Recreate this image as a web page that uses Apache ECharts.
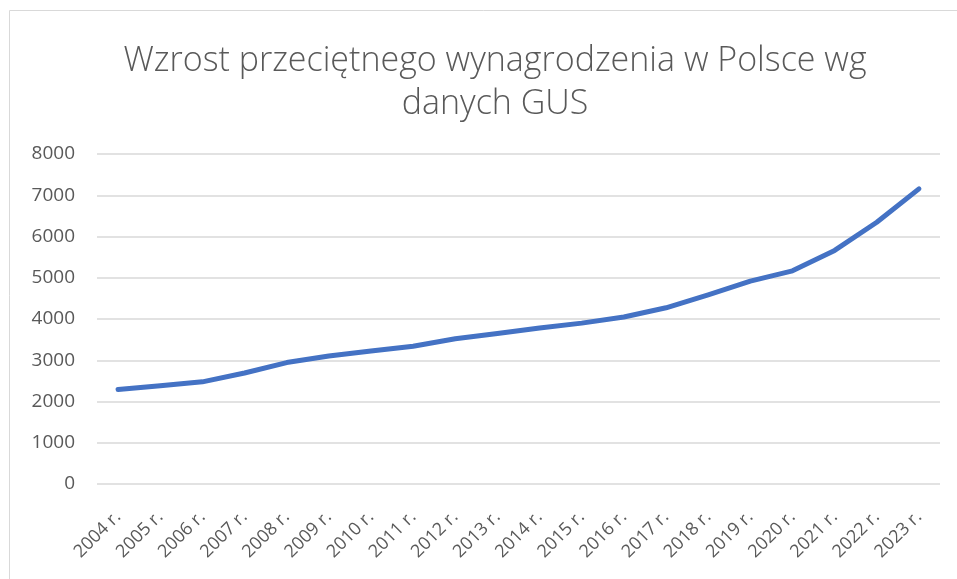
<!DOCTYPE html>
<html>
<head>
<meta charset="utf-8">
<script src="https://cdn.jsdelivr.net/npm/echarts@6/dist/echarts.min.js"></script>
<style>
  html, body { margin: 0; padding: 0; background: #fff; }
  #chart { width: 957px; height: 579px; }
</style>
</head>
<body>
<div id="chart"></div>
<script>
// lata i przeciętne wynagrodzenie (zł)
const years = ['2004 r.', '2005 r.', '2006 r.', '2007 r.', '2008 r.', '2009 r.', '2010 r.',
  '2011 r.', '2012 r.', '2013 r.', '2014 r.', '2015 r.', '2016 r.', '2017 r.', '2018 r.',
  '2019 r.', '2020 r.', '2021 r.', '2022 r.', '2023 r.']
const salary = [2290, 2380, 2477, 2691, 2944, 3103, 3225, 3340, 3522, 3650, 3783, 3900,
  4047, 4272, 4585, 4918, 5167, 5663, 6346, 7155]

const chart = echarts.init(document.getElementById('chart'))
const option = {
  animation: false,
  title: {
    text: 'Wzrost przeciętnego wynagrodzenia w Polsce wg\ndanych GUS',
    left: 490,
    top: 35,
    textAlign: 'center',
    textStyle: {
      fontFamily: 'Open Sans',
      fontWeight: 300,
      fontSize: 34,
      lineHeight: 43,
      color: '#595959',
    },
  },
  graphic: [
    {
      type: 'rect',
      shape: { x: 9.5, y: 10.5, width: 1200, height: 1200 },
      style: { fill: 'none', stroke: '#d9d9d9', lineWidth: 1 },
      silent: true,
    },
  ],
  grid: {
    left: 97,
    right: 17,
    top: 154,
    bottom: 95,
    containLabel: false,
  },
  xAxis: {
    type: 'category',
    data: years,
    boundaryGap: true,
    axisLine: { show: false },
    axisTick: { show: false },
    axisLabel: {
      rotate: 45,
      margin: 30,
      interval: 0,
      fontFamily: 'Open Sans',
      fontSize: 18,
      color: '#595959',
    },
  },
  yAxis: {
    type: 'value',
    min: 0,
    max: 8000,
    interval: 1000,
    axisLine: { show: false },
    axisTick: { show: false },
    axisLabel: {
      margin: 22,
      fontFamily: 'Open Sans',
      fontSize: 19,
      color: '#595959',
      formatter: (v) => String(v),
    },
    splitLine: { lineStyle: { color: '#d9d9d9', width: 1.5 } },
  },
  series: [
    {
      type: 'line',
      data: salary,
      smooth: false,
      symbol: 'none',
      lineStyle: { color: '#4472C4', width: 5, cap: 'round', join: 'round' },
    },
  ],
}
chart.setOption(option)
</script>
</body>
</html>
